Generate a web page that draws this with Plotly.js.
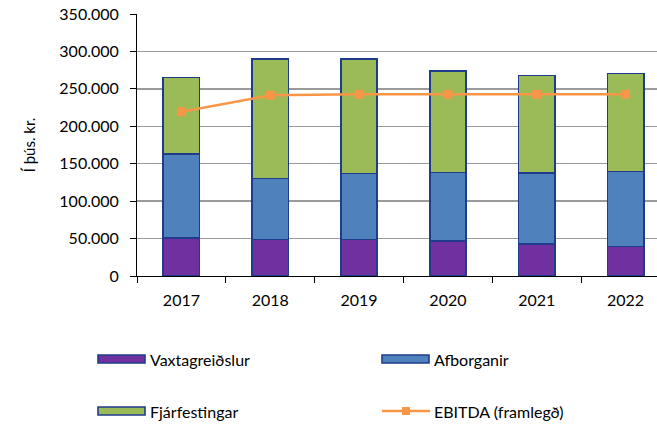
<!DOCTYPE html>
<html><head><meta charset="utf-8">
<script src="https://cdn.plot.ly/plotly-3.0.1.min.js"></script>
<style>html,body{margin:0;padding:0;overflow:hidden;background:#fff}#c{width:670px;height:424px}</style>
</head><body><div id="c"></div>
<script>
const years = ['2017','2018','2019','2020','2021','2022'];
const vaxtagreidslur = [51000, 48500, 49000, 46500, 42700, 39200];
const afborganir = [111600, 82000, 87700, 92000, 95300, 100600];
const fjarfestingar = [102400, 159000, 152800, 135400, 129600, 130500];
const ebitda = [219500, 241400, 242700, 242700, 242700, 242700];
const names = ['Vaxtagreiðslur','Afborganir','Fjárfestingar','EBITDA (framlegð)'];
const colors = ['#7030A0','#4F81BD','#9BBB59','#F79646'];
const outline = '#1F3C8C';
const FONT = 'Lato, "Open Sans", sans-serif';

const L = 137, R = 670, T = 14, B = 276;
const px = x => (x - L) / (R - L);
const py = y => (B - y) / (B - T);

const bar = (y, i) => ({type:'bar', x: years, y: y, name: names[i], width: 0.41,
  marker:{color: colors[i], line:{color: outline, width: 1.6}}, showlegend:false});
const traces = [bar(vaxtagreidslur,0), bar(afborganir,1), bar(fjarfestingar,2),
  {type:'scatter', mode:'lines+markers', x: years, y: ebitda, name: names[3],
   line:{color: colors[3], width: 2.5}, marker:{symbol:'square', size:9, color: colors[3]}, showlegend:false}];

// custom legend (wide swatches like the original)
const shapes = [], annotations = [];
const leg = [[98,359,0],[382,359,1],[98,411,2],[382,411,3]];
leg.forEach(([x,y,i]) => {
  if (i < 3) {
    shapes.push({type:'rect', xref:'paper', yref:'paper', x0:px(x), x1:px(x+47), y0:py(y+4), y1:py(y-4),
      fillcolor: colors[i], line:{color: outline, width:1.6}});
  } else {
    shapes.push({type:'line', xref:'paper', yref:'paper', x0:px(x), x1:px(x+48), y0:py(y), y1:py(y),
      line:{color: colors[3], width:2.5}});
    shapes.push({type:'rect', xref:'paper', yref:'paper', x0:px(x+20), x1:px(x+28), y0:py(y+4), y1:py(y-4),
      fillcolor: colors[3], line:{width:0}});
  }
  annotations.push({xref:'paper', yref:'paper', x:px(x+50), y:py(y), xanchor:'left', yanchor:'middle',
    text: names[i], showarrow:false, font:{family:FONT, size:16, color:'#000'}});
});

const layout = {
  width:670, height:424, margin:{l:L, r:670-R, t:T, b:424-B},
  paper_bgcolor:'#fff', plot_bgcolor:'#fff', separators:',.',
  barmode:'stack', showlegend:false,
  font:{family:FONT, size:16, color:'#000'},
  xaxis:{type:'category', tickson:'boundaries', ticks:'outside', ticklen:6, tickcolor:'#000',
    showline:true, linecolor:'#000', linewidth:1, showgrid:false, tickfont:{size:16},
    ticklabelstandoff:10, fixedrange:true},
  yaxis:{range:[0,350000], dtick:50000, tickformat:',d', ticks:'outside', ticklen:6, tickcolor:'#000',
    showline:true, linecolor:'#000', linewidth:1, gridcolor:'#9a9a9a', gridwidth:1.5, zeroline:false,
    tickfont:{size:16}, ticklabelstandoff:8,
    title:{text:'Í þús. kr.', font:{size:15}, standoff:20}},
  shapes: shapes, annotations: annotations
};
Plotly.newPlot('c', traces, layout, {staticPlot:true, displayModeBar:false});
</script></body></html>
